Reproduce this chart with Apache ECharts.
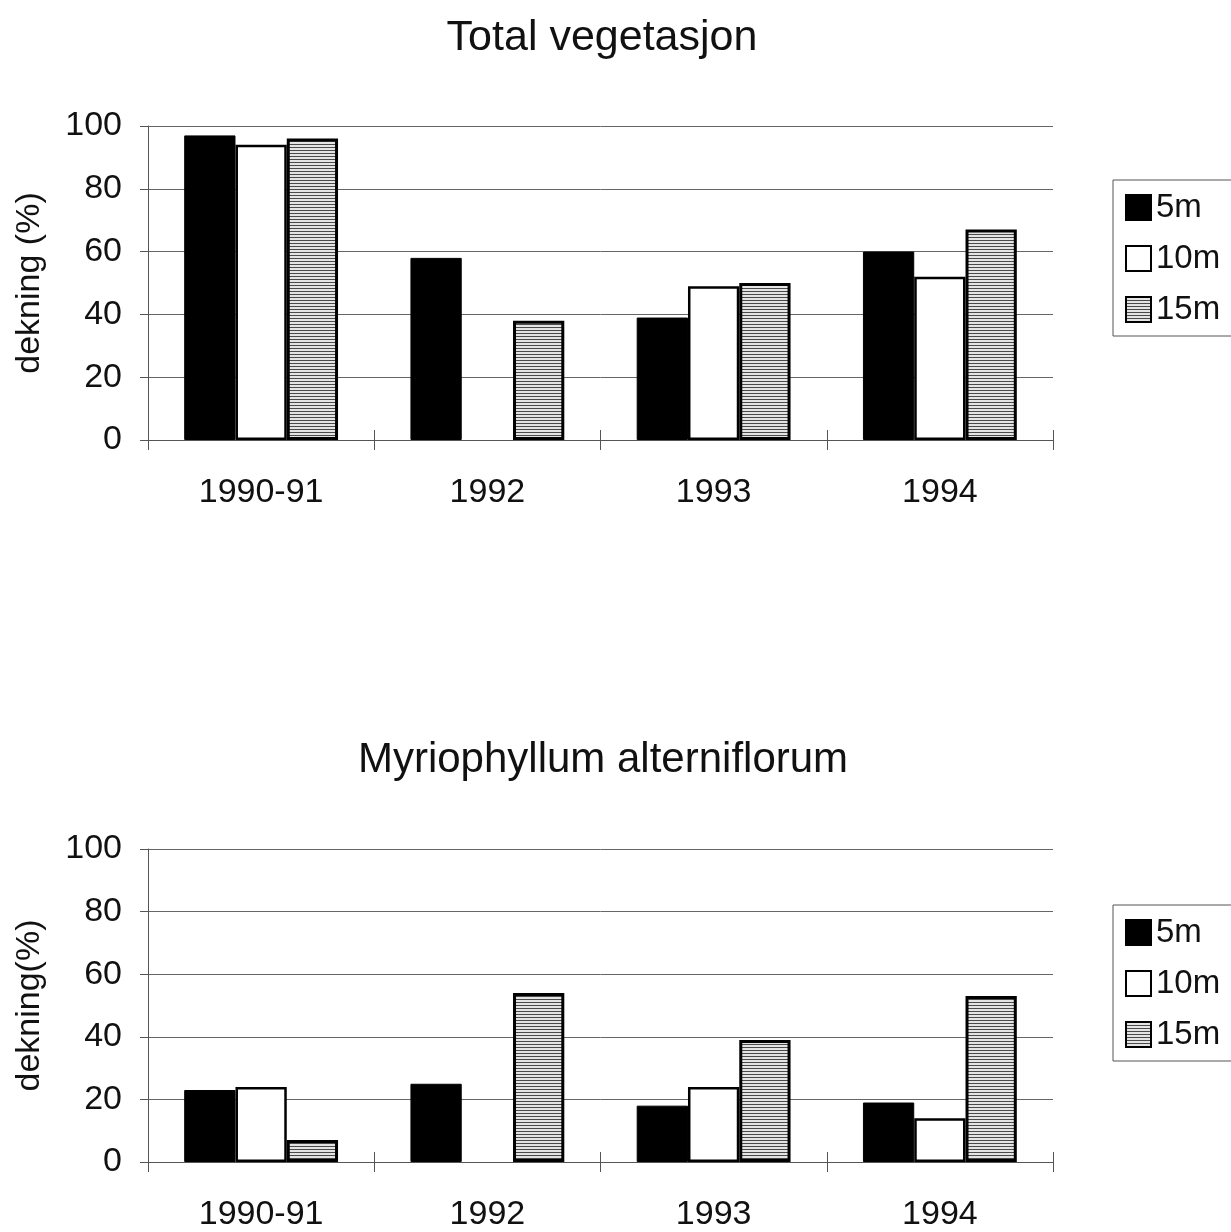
<!DOCTYPE html>
<html>
<head>
<meta charset="utf-8">
<script src="https://cdn.jsdelivr.net/npm/echarts@6/dist/echarts.min.js"></script>
<style>
  html, body { margin: 0; padding: 0; background: #fff; }
  #chart { width: 1231px; height: 1232px; }
</style>
</head>
<body>
<div id="chart"></div>
<script>
// data
var years = ['1990-91', '1992', '1993', '1994']
var depths = ['5m', '10m', '15m']
var total5 = [97, 58, 39, 60]
var total10 = [94, null, 49, 52]
var total15 = [96, 38, 50, 67]
var myrio5 = [23, 25, 18, 19]
var myrio10 = [24, null, 24, 14]
var myrio15 = [7, 54, 39, 53]
var yTicks = [0, 20, 40, 60, 80, 100]

var font = 'Liberation Sans, Arial, sans-serif'

// striped fill for the 15m bars
function stripes() {
  var c = document.createElement('canvas')
  c.width = 4
  c.height = 3
  var ctx = c.getContext('2d')
  ctx.fillStyle = '#e4e4e4'
  ctx.fillRect(0, 0, 4, 3)
  ctx.fillStyle = '#4a4a4a'
  ctx.fillRect(0, 0, 4, 1)
  return c
}
var stripeFill = { image: stripes(), repeat: 'repeat' }

var styles = [
  { color: '#000', borderColor: '#000', borderWidth: 1 },
  { color: '#fff', borderColor: '#000', borderWidth: 2.5 },
  { color: stripeFill, borderColor: '#000', borderWidth: 3 }
]

function xAxes(grid) {
  return [
    {
      gridIndex: grid, type: 'category', data: years,
      axisLine: { lineStyle: { color: '#555', width: 1 } },
      axisTick: { show: true, interval: 0, length: 10, lineStyle: { color: '#555' } },
      axisLabel: { color: '#111', fontSize: 34, fontFamily: font, margin: 36 }
    },
    {
      gridIndex: grid, type: 'category', data: years, position: 'bottom',
      axisLine: { show: false },
      axisTick: { show: true, interval: 0, inside: true, length: 10, lineStyle: { color: '#555' } },
      axisLabel: { show: false },
      splitLine: { show: false }
    }
  ]
}

function yAxis(grid, name) {
  return {
    gridIndex: grid, type: 'value', min: yTicks[0], max: yTicks[yTicks.length - 1], interval: 20,
    name: name, nameLocation: 'middle', nameGap: 101, nameRotate: 90,
    nameTextStyle: { color: '#111', fontSize: 34, fontFamily: font },
    axisLine: { show: true, lineStyle: { color: '#555', width: 1 } },
    axisTick: { show: true, length: 8, lineStyle: { color: '#555' } },
    axisLabel: { color: '#111', fontSize: 34, fontFamily: font, margin: 26 },
    splitLine: { lineStyle: { color: '#666', width: 1 } }
  }
}

function barSeries(grid, values) {
  return values.map(function (vals, i) {
    return {
      name: depths[i], type: 'bar',
      xAxisIndex: grid * 2, yAxisIndex: grid,
      data: vals,
      barGap: '0%', barCategoryGap: '32%',
      itemStyle: styles[i],
      animation: false
    }
  })
}

function legend(top) {
  return {
    orient: 'vertical', left: 1113, top: top,
    data: depths.map(function (d) { return { name: d, icon: 'rect' } }),
    itemWidth: 25, itemHeight: 25, itemGap: 18,
    padding: [11, 40, 10, 12],
    borderColor: '#555', borderWidth: 1,
    textStyle: { color: '#111', fontSize: 33, fontFamily: font, lineHeight: 32 }
  }
}

var chart = echarts.init(document.getElementById('chart'))
chart.setOption({
  backgroundColor: '#fff',
  animation: false,
  title: [
    { text: 'Total vegetasjon', left: 597, top: 12, textAlign: 'center',
      textStyle: { color: '#111', fontSize: 43, fontWeight: 'normal', fontFamily: font } },
    { text: 'Myriophyllum alterniflorum', left: 598, top: 734, textAlign: 'center',
      textStyle: { color: '#111', fontSize: 42, fontWeight: 'normal', fontFamily: font } }
  ],
  legend: [legend(180), legend(905)],
  grid: [
    { left: 148, top: 126, width: 905, height: 314 },
    { left: 148, top: 849, width: 905, height: 318 }
  ],
  xAxis: xAxes(0).concat(xAxes(1)),
  yAxis: [yAxis(0, 'dekning (%)'), yAxis(1, 'dekning(%)')],
  series: barSeries(0, [total5, total10, total15]).concat(barSeries(1, [myrio5, myrio10, myrio15]))
})
</script>
</body>
</html>
